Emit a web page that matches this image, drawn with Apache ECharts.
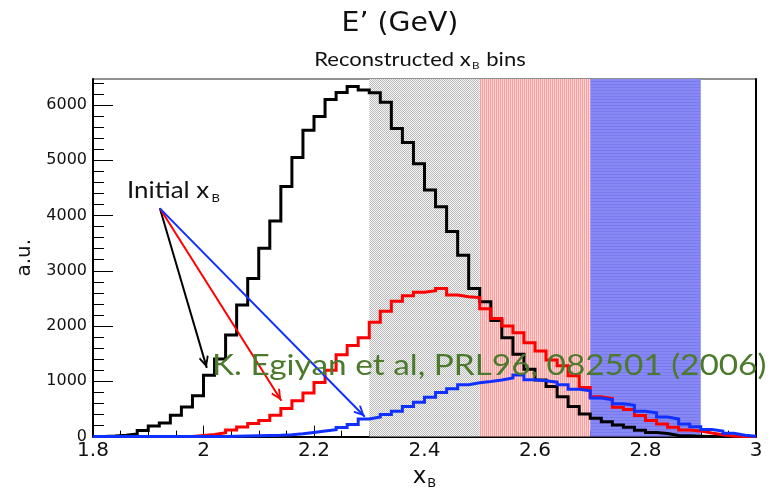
<!DOCTYPE html>
<html>
<head>
<meta charset="utf-8">
<script src="https://cdn.jsdelivr.net/npm/echarts@6/dist/echarts.min.js"></script>
<style>
  html, body { margin: 0; padding: 0; background: #ffffff; }
  #chart { width: 776px; height: 495px; }
</style>
</head>
<body>
<div id="chart"></div>
<script>
// Histogram binning (60 bins of 0.02 in x_B)
const binStart = 1.8;
const binWidth = 0.02;

// All events (black histogram)
const allCounts = [
  0, 10, 25, 45, 110, 190, 245, 385, 535, 740,
  1110, 1405, 1840, 2380, 2860, 3410, 3900, 4525, 5050, 5545,
  5790, 6100, 6225, 6335, 6270, 6220, 6050, 5575, 5320, 4935,
  4460, 4160, 3710, 3280, 2680, 2440, 2100, 1790, 1490, 1220,
  1025, 905, 720, 545, 410, 330, 270, 210, 170, 115,
  75, 55, 20, 15, 8, 3, 0, 0, 0, 0
];

// Reconstructed bin 2.5 < x_B < 2.7 (red histogram)
const redCounts = [
  0, 0, 0, 0, 0, 0, 0, 0, 0, 20,
  40, 70, 120, 175, 235, 290, 385, 510, 650, 790,
  980, 1200, 1480, 1650, 1790, 2070, 2270, 2450, 2550, 2610,
  2640, 2680, 2560, 2530, 2515, 2315, 2135, 2000, 1880, 1700,
  1550, 1385, 1280, 1100, 890, 720, 690, 530, 490, 380,
  290, 230, 170, 120, 100, 65, 35, 10, 0, 0
];

// Reconstructed bin 2.7 < x_B < 2.9 (blue histogram)
const blueCounts = [
  0, 0, 0, 0, 0, 0, 0, 0, 0, 0,
  0, 0, 5, 10, 15, 20, 25, 35, 50, 75,
  100, 125, 165, 220, 320, 355, 400, 460, 545, 620,
  710, 800, 865, 940, 973, 995, 1025, 1060, 1115, 1030,
  1010, 985, 940, 855, 830, 700, 665, 595, 565, 460,
  430, 355, 320, 230, 180, 130, 100, 60, 25, 5
];

// Axis ticks
const yMajorTicks = [0, 1000, 2000, 3000, 4000, 5000, 6000];
const yMinorTicks = [200, 400, 600, 800, 1200, 1400, 1600, 1800, 2200, 2400, 2600, 2800,
  3200, 3400, 3600, 3800, 4200, 4400, 4600, 4800, 5200, 5400, 5600, 5800, 6200, 6400];

// Reconstructed x_B bins shown as shaded bands
const bands = [[2.3, 2.5], [2.5, 2.7], [2.7, 2.9]];

// "Initial x_B" arrows (data coordinates)
const arrowFrom = [1.921, 4130];
const arrowTips = [[2.006, 1243], [2.141, 650], [2.292, 360]];
const arrowColors = ['#000000', '#ff0000', '#1030ff'];

// Step outline: each bin drawn from its left edge, closed at the last right edge
function stepPoints(counts) {
  const pts = counts.map((v, i) => [+(binStart + i * binWidth).toFixed(4), v]);
  pts.push([+(binStart + counts.length * binWidth).toFixed(4), counts[counts.length - 1]]);
  return pts;
}

// Small repeating fill textures for the bands
function texture(w, h, draw) {
  const c = document.createElement('canvas');
  c.width = w; c.height = h;
  const g = c.getContext('2d');
  draw(g);
  return { image: c, repeat: 'repeat' };
}
const greyDots = texture(2, 2, g => {
  g.fillStyle = '#f6f6f6'; g.fillRect(0, 0, 2, 2);
  g.fillStyle = '#bababa'; g.fillRect(0, 0, 1, 1); g.fillRect(1, 1, 1, 1);
});
const redStripes = texture(2, 1, g => {
  g.fillStyle = '#ff9c9c'; g.fillRect(0, 0, 1, 1);
  g.fillStyle = '#ffd6d6'; g.fillRect(1, 0, 1, 1);
});
const blueLines = texture(1, 3, g => {
  g.fillStyle = '#8888f4'; g.fillRect(0, 0, 1, 3);
  g.fillStyle = '#7a7aef'; g.fillRect(0, 0, 1, 1);
});
const bandFills = [greyDots, redStripes, blueLines];

// Open arrow head, tip at the symbol centre
const chevron = 'path://M5 -10.2 L5 -10.2 Z M5 0 L10 8.6 L8.6 9.8 L5 3.4 L1.4 9.8 L0 8.6 Z';

const numFont = 'DejaVu Sans';
const textFont = 'Lato';

const chart = echarts.init(document.getElementById('chart'), null, { renderer: 'canvas' });

chart.setOption({
  animation: false,
  backgroundColor: '#ffffff',
  grid: {
    left: 93, right: 20, top: 79, bottom: 57,
    show: true, borderColor: '#222', borderWidth: 1, backgroundColor: 'transparent'
  },
  xAxis: {
    type: 'value',
    min: 1.8, max: 3, interval: 0.2,
    axisLine: { show: true, onZero: false, lineStyle: { color: '#000', width: 2 } },
    axisTick: { show: true, inside: true, length: 11, lineStyle: { color: '#000', width: 1 } },
    minorTick: { show: true, splitNumber: 4, length: 6, lineStyle: { color: '#000', width: 1 } },
    splitLine: { show: false },
    axisLabel: { fontFamily: numFont, fontSize: 20, color: '#111', margin: 4 },
    name: '{x|x}{b|B}',
    nameLocation: 'middle',
    nameGap: 26,
    nameTextStyle: {
      rich: {
        x: { fontFamily: numFont, fontSize: 23, color: '#111', lineHeight: 26 },
        b: { fontFamily: numFont, fontSize: 13, color: '#111', lineHeight: 12, verticalAlign: 'bottom', padding: [7, 0, 0, 1] }
      }
    }
  },
  yAxis: [
    {
      type: 'value',
      min: 0, max: 6470,
      position: 'left',
      axisLine: { show: true, onZero: false, lineStyle: { color: '#000', width: 2 } },
      axisTick: { show: true, inside: true, length: 20, customValues: yMajorTicks, lineStyle: { color: '#000', width: 1 } },
      axisLabel: { customValues: yMajorTicks, formatter: v => String(v), fontFamily: numFont, fontSize: 16, color: '#111', margin: 6 },
      splitLine: { show: false },
      name: 'a.u.',
      nameLocation: 'middle',
      nameGap: 58,
      nameRotate: 90,
      nameTextStyle: { fontFamily: numFont, fontSize: 20, color: '#111' }
    },
    {
      type: 'value',
      min: 0, max: 6470,
      position: 'left',
      axisLine: { show: false },
      axisTick: { show: true, inside: true, length: 11, customValues: yMinorTicks, lineStyle: { color: '#000', width: 1 } },
      axisLabel: { show: false },
      splitLine: { show: false }
    },
    {
      type: 'value',
      min: 0, max: 6470,
      position: 'right',
      axisLine: { show: true, onZero: false, lineStyle: { color: '#000', width: 2 } },
      axisTick: { show: false },
      axisLabel: { show: false },
      splitLine: { show: false }
    }
  ],
  series: [
    {
      name: 'all',
      type: 'line',
      step: 'end',
      showSymbol: false,
      symbol: 'none',
      z: 2,
      lineStyle: { color: '#000000', width: 3, join: 'miter' },
      data: stepPoints(allCounts),
      markLine: {
        silent: true,
        animation: false,
        symbol: ['none', chevron],
        symbolSize: [10, 24],
        label: { show: false },
        data: arrowTips.map((tip, i) => [
          { coord: arrowFrom, lineStyle: { color: arrowColors[i], width: 2, type: 'solid' }, itemStyle: { color: arrowColors[i] } },
          { coord: tip }
        ])
      }
    },
    {
      name: 'bin 2.5-2.7',
      type: 'line',
      step: 'end',
      showSymbol: false,
      symbol: 'none',
      z: 2,
      lineStyle: { color: '#ff0000', width: 3, join: 'miter' },
      data: stepPoints(redCounts)
    },
    {
      name: 'bin 2.7-2.9',
      type: 'line',
      step: 'end',
      showSymbol: false,
      symbol: 'none',
      z: 2,
      lineStyle: { color: '#1030ff', width: 3, join: 'miter' },
      data: stepPoints(blueCounts),
      markArea: {
        silent: true,
        data: bands.map((b, i) => [
          { xAxis: b[0], itemStyle: { color: bandFills[i], opacity: 1 } },
          { xAxis: b[1] }
        ])
      }
    }
  ],
  graphic: [
    {
      type: 'text',
      x: 400, y: 24,
      scaleX: 1.05,
      style: {
        text: 'E\u2019 (GeV)',
        align: 'center', verticalAlign: 'middle',
        fontFamily: numFont, fontSize: 27, fill: '#111'
      }
    },
    {
      type: 'text',
      x: 420, y: 60,
      scaleX: 1.16,
      style: {
        text: '{a|Reconstructed x}{b|B}{a| bins}',
        align: 'center', verticalAlign: 'middle',
        rich: {
          a: { fontFamily: textFont, fontSize: 19, fill: '#111', lineHeight: 22 },
          b: { fontFamily: textFont, fontSize: 10, fill: '#111', lineHeight: 10, verticalAlign: 'bottom', padding: [6, 1, 0, 1] }
        }
      }
    },
    {
      type: 'text',
      x: 127, y: 190,
      scaleX: 1.08,
      style: {
        text: '{a|Initial x}{b|B}',
        align: 'left', verticalAlign: 'middle',
        rich: {
          a: { fontFamily: textFont, fontSize: 24, fill: '#111', lineHeight: 28 },
          b: { fontFamily: textFont, fontSize: 12, fill: '#111', lineHeight: 12, verticalAlign: 'bottom', padding: [8, 0, 0, 2] }
        }
      }
    },
    {
      type: 'text',
      x: 212, y: 366,
      scaleX: 1.15,
      z: 100,
      style: {
        text: 'K. Egiyan et al, PRL96, 082501 (2006)',
        align: 'left', verticalAlign: 'middle',
        fontFamily: textFont, fontSize: 29, fill: '#4b7a2c'
      }
    }
  ]
});
</script>
</body>
</html>
